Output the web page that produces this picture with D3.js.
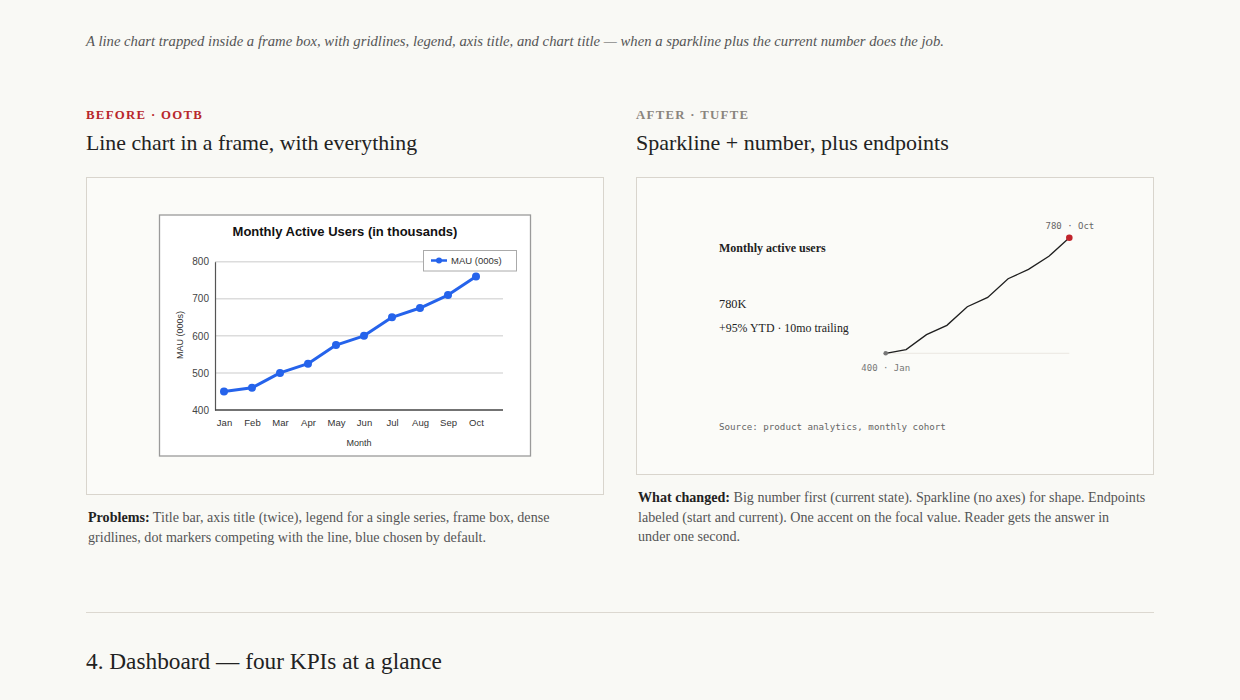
<!DOCTYPE html>
<html>
<head>
<meta charset="utf-8">
<script src="https://cdn.jsdelivr.net/npm/d3@7"></script>
<style>
  html, body { margin: 0; padding: 0; background: #f9f9f5; }
  svg { display: block; }
  .serif { font-family: "Liberation Serif", "DejaVu Serif", serif; }
  .sans { font-family: "Liberation Sans", Arial, sans-serif; }
  .mono { font-family: "DejaVu Sans Mono", "Liberation Mono", monospace; }
</style>
</head>
<body>
<div id="page"></div>
<script>
// データ
const months = ["Jan", "Feb", "Mar", "Apr", "May", "Jun", "Jul", "Aug", "Sep", "Oct"];
const mau = [450, 460, 500, 525, 575, 600, 650, 675, 710, 760];
const yTicks = [400, 500, 600, 700, 800];
const startLabel = "400 · Jan";
const endLabel = "780 · Oct";

const problemsLines = [
  " Title bar, axis title (twice), legend for a single series, frame box, dense",
  "gridlines, dot markers competing with the line, blue chosen by default."
];
const changedLines = [
  " Big number first (current state). Sparkline (no axes) for shape. Endpoints",
  "labeled (start and current). One accent on the focal value. Reader gets the answer in",
  "under one second."
];

const svg = d3.select("#page").append("svg")
  .attr("width", 1240)
  .attr("height", 700);

// ヘッダー
svg.append("text").attr("class", "serif")
  .attr("x", 86).attr("y", 46)
  .attr("font-size", 14.7).attr("font-style", "italic").attr("fill", "#555")
  .text("A line chart trapped inside a frame box, with gridlines, legend, axis title, and chart title — when a sparkline plus the current number does the job.");

function panelHead(x, kicker, color, title, size) {
  svg.append("text").attr("class", "serif")
    .attr("x", x).attr("y", 119)
    .attr("font-size", 12.8).attr("font-weight", "bold")
    .attr("letter-spacing", 1.3).attr("fill", color)
    .text(kicker);
  svg.append("text").attr("class", "serif")
    .attr("x", x).attr("y", 150)
    .attr("font-size", size).attr("fill", "#222")
    .text(title);
}
panelHead(86, "BEFORE · OOTB", "#b8272b", "Line chart in a frame, with everything", 21.8);
panelHead(636, "AFTER · TUFTE", "#8a857d", "Sparkline + number, plus endpoints", 22);

// 外枠
svg.append("rect").attr("x", 86.5).attr("y", 177.5).attr("width", 517).attr("height", 317)
  .attr("fill", "#fbfbf8").attr("stroke", "#d9d5cd");
svg.append("rect").attr("x", 636.5).attr("y", 177.5).attr("width", 517).attr("height", 297)
  .attr("fill", "#fbfbf8").attr("stroke", "#d9d5cd");

// BEFORE: 既定のラインチャート
const before = svg.append("g").attr("class", "sans");
before.append("rect").attr("x", 159.5).attr("y", 215).attr("width", 371).attr("height", 241)
  .attr("fill", "#fff").attr("stroke", "#9a9a9a").attr("stroke-width", 1.3);

const x = d3.scalePoint().domain(months).range([224, 476]);
const y = d3.scaleLinear().domain([400, 800]).range([410, 261.7]);
const plotLeft = 215, plotRight = 503;

// グリッド線
before.append("g")
  .selectAll("line")
  .data(yTicks.slice(1))
  .join("line")
  .attr("x1", plotLeft).attr("x2", plotRight)
  .attr("y1", (d) => y(d)).attr("y2", (d) => y(d))
  .attr("stroke", "#dcdcdc").attr("stroke-width", 1.5);

const yAxis = before.append("g")
  .attr("transform", `translate(${plotLeft},0)`)
  .call(d3.axisLeft(y).tickValues(yTicks).tickSize(0).tickPadding(6));
yAxis.select(".domain").attr("stroke", "#555").attr("stroke-width", 1.2);
yAxis.selectAll("text").attr("font-size", 10).attr("fill", "#444")
  .attr("font-family", "Liberation Sans, Arial, sans-serif");

const xAxis = before.append("g")
  .attr("transform", "translate(0,410)")
  .call(d3.axisBottom(x).tickSize(0).tickPadding(9));
xAxis.select(".domain").remove();
xAxis.selectAll("text").attr("font-size", 9.5).attr("fill", "#333")
  .attr("font-family", "Liberation Sans, Arial, sans-serif");
before.append("line")
  .attr("x1", plotLeft).attr("x2", plotRight).attr("y1", 410).attr("y2", 410)
  .attr("stroke", "#444").attr("stroke-width", 1.3);

before.append("path")
  .datum(mau)
  .attr("fill", "none").attr("stroke", "#2563eb").attr("stroke-width", 3)
  .attr("stroke-linejoin", "round")
  .attr("d", d3.line().x((d, i) => x(months[i])).y((d) => y(d)));

before.append("g")
  .selectAll("circle")
  .data(mau)
  .join("circle")
  .attr("cx", (d, i) => x(months[i])).attr("cy", (d) => y(d))
  .attr("r", 4).attr("fill", "#2563eb");

before.append("text")
  .attr("x", 345).attr("y", 236).attr("text-anchor", "middle")
  .attr("font-size", 13).attr("font-weight", "bold").attr("fill", "#111")
  .text("Monthly Active Users (in thousands)");
before.append("text")
  .attr("x", 359).attr("y", 446).attr("text-anchor", "middle")
  .attr("font-size", 9).attr("fill", "#333")
  .text("Month");
before.append("text")
  .attr("transform", "translate(183,335) rotate(-90)").attr("text-anchor", "middle")
  .attr("font-size", 9).attr("fill", "#333")
  .text("MAU (000s)");

// 凡例
const legend = before.append("g");
legend.append("rect").attr("x", 423.5).attr("y", 250.5).attr("width", 93).attr("height", 20.5)
  .attr("fill", "#fff").attr("stroke", "#aaa");
legend.append("line").attr("x1", 431).attr("x2", 447).attr("y1", 260.5).attr("y2", 260.5)
  .attr("stroke", "#2563eb").attr("stroke-width", 2.5);
legend.append("circle").attr("cx", 439).attr("cy", 260.5).attr("r", 3).attr("fill", "#2563eb");
legend.append("text").attr("x", 451).attr("y", 264).attr("font-size", 9.5).attr("fill", "#333")
  .text("MAU (000s)");

// AFTER: スパークライン
const after = svg.append("g");
after.append("text").attr("class", "serif")
  .attr("x", 719).attr("y", 251.5).attr("font-size", 12).attr("font-weight", "bold").attr("fill", "#222")
  .text("Monthly active users");
after.append("text").attr("class", "serif")
  .attr("x", 719).attr("y", 307.5).attr("font-size", 12.3).attr("fill", "#222")
  .text("780K");
after.append("text").attr("class", "serif")
  .attr("x", 719).attr("y", 331.5).attr("font-size", 11.9).attr("fill", "#222")
  .text("+95% YTD · 10mo trailing");

const sx = d3.scalePoint().domain(months).range([885.7, 1069.3]);
const sy = d3.scaleLinear().domain(d3.extent(mau)).range([353.3, 237.7]);

after.append("line")
  .attr("x1", sx.range()[0]).attr("x2", sx.range()[1])
  .attr("y1", sy(d3.min(mau))).attr("y2", sy(d3.min(mau)))
  .attr("stroke", "#ebe8e1").attr("stroke-width", 1);

after.append("path")
  .datum(mau)
  .attr("fill", "none").attr("stroke", "#1f1f1f").attr("stroke-width", 1.3)
  .attr("d", d3.line().x((d, i) => sx(months[i])).y((d) => sy(d)));

const last = mau.length - 1;
after.append("circle").attr("cx", sx(months[0])).attr("cy", sy(mau[0]))
  .attr("r", 2.3).attr("fill", "#777");
after.append("circle").attr("cx", sx(months[last])).attr("cy", sy(mau[last]))
  .attr("r", 3.3).attr("fill", "#c0232b");

after.append("text").attr("class", "mono")
  .attr("x", sx(months[0])).attr("y", sy(mau[0]) + 18).attr("text-anchor", "middle")
  .attr("font-size", 9).attr("fill", "#777")
  .text(startLabel);
after.append("text").attr("class", "mono")
  .attr("x", sx(months[last]) + 25).attr("y", sy(mau[last]) - 9).attr("text-anchor", "end")
  .attr("font-size", 9).attr("fill", "#666")
  .text(endLabel);
after.append("text").attr("class", "mono")
  .attr("x", 719).attr("y", 430).attr("font-size", 9.2).attr("fill", "#666")
  .text("Source: product analytics, monthly cohort");

// キャプション
function caption(x, y0, label, lines) {
  const t = svg.append("text").attr("class", "serif").attr("font-size", 14.1).attr("fill", "#555");
  lines.forEach((line, i) => {
    const ts = t.append("tspan").attr("x", x).attr("y", y0 + i * 19.5);
    if (i === 0) {
      ts.append("tspan").attr("font-weight", "bold").attr("fill", "#222").text(label);
      ts.append("tspan").text(line);
    } else {
      ts.text(line);
    }
  });
}
caption(88, 522, "Problems:", problemsLines);
caption(638, 502, "What changed:", changedLines);

// 区切り線と次のセクション
svg.append("line").attr("x1", 86).attr("x2", 1154).attr("y1", 612.5).attr("y2", 612.5)
  .attr("stroke", "#dcd8d0");
svg.append("text").attr("class", "serif")
  .attr("x", 86).attr("y", 669).attr("font-size", 23.3).attr("fill", "#222")
  .text("4. Dashboard — four KPIs at a glance");
</script>
</body>
</html>
